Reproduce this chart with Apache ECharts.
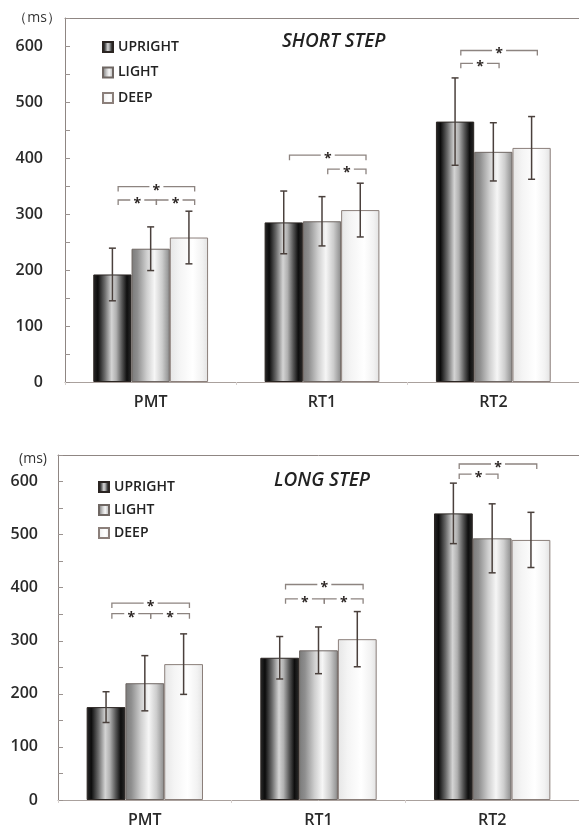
<!DOCTYPE html>
<html>
<head>
<meta charset="utf-8">
<script src="https://cdn.jsdelivr.net/npm/echarts@6/dist/echarts.min.js"></script>
<style>
  html, body { margin: 0; padding: 0; background: #fff; }
  #chart { width: 579px; height: 828px; }
</style>
</head>
<body>
<div id="chart"></div>
<script>
// Reaction-time components (ms) for three posture conditions, short and long steps
const categories = ['PMT', 'RT1', 'RT2'];
const conditions = ['UPRIGHT', 'LIGHT', 'DEEP'];
const yTicks = [0, 100, 200, 300, 400, 500, 600];

// SHORT STEP: means and SDs per condition (PMT, RT1, RT2)
const shortUpright = [192, 285, 465];
const shortLight = [238, 287, 411];
const shortDeep = [258, 307, 418];
const shortUprightSD = [47, 56, 78];
const shortLightSD = [39, 44, 52];
const shortDeepSD = [47, 48, 56];

// LONG STEP
const longUpright = [175, 268, 540];
const longLight = [220, 282, 493];
const longDeep = [256, 303, 490];
const longUprightSD = [29, 40, 57];
const longLightSD = [52, 44, 65];
const longDeepSD = [57, 52, 52];

// Significance brackets: [category, from condition, to condition, height (ms)]
const shortBrackets = [
  [0, 0, 2, 349], [0, 0, 1, 325], [0, 1, 2, 325],
  [1, 0, 2, 405], [1, 1, 2, 380],
  [2, 0, 2, 592], [2, 0, 1, 569]
];
const longBrackets = [
  [0, 0, 2, 371], [0, 0, 1, 351], [0, 1, 2, 351],
  [1, 0, 2, 406], [1, 0, 1, 379], [1, 1, 2, 379],
  [2, 0, 2, 633], [2, 0, 1, 614]
];

const FONT = '"Open Sans", "Noto Sans", sans-serif';
const CAT_GAP = 0.33;

function grad(stops) {
  return new echarts.graphic.LinearGradient(0, 0, 1, 0,
    stops.map(s => ({ offset: s[0], color: s[1] })));
}
const barStyles = [
  { color: grad([[0, '#2a2a2a'], [0.12, '#0c0c0c'], [0.3, '#6a6a6a'], [0.48, '#d4d4d4'], [0.6, '#b0b0b0'], [0.75, '#555'], [0.88, '#0e0e0e'], [1, '#2a2a2a']]), borderColor: '#2b2522', borderWidth: 1 },
  { color: grad([[0, '#7a7a7a'], [0.15, '#8e8e8e'], [0.4, '#cfcfcf'], [0.6, '#f6f6f6'], [0.8, '#cdcdcd'], [1, '#8a8a8a']]), borderColor: '#6f6763', borderWidth: 1 },
  { color: grad([[0, '#e6e6e6'], [0.25, '#f4f4f4'], [0.6, '#ffffff'], [0.85, '#f2f2f2'], [1, '#e2e2e2']]), borderColor: '#8b7f7a', borderWidth: 1 }
];

function errorData(means, sds) {
  const out = [];
  means.forEach((arr, g) => arr.forEach((m, c) => out.push([c, g, m, sds[g][c]])));
  return out;
}

function renderError(params, api) {
  const c = api.value(0), g = api.value(1), m = api.value(2), s = api.value(3);
  const band = api.size([1, 0])[0];
  const bw = band * (1 - CAT_GAP) / 3;
  const x = api.coord([c, m])[0] + (g - 1) * bw;
  const yHi = api.coord([c, m + s])[1];
  const yLo = api.coord([c, m - s])[1];
  const st = { stroke: '#4a403c', lineWidth: 1.5 };
  return {
    type: 'group',
    children: [
      { type: 'line', shape: { x1: x, y1: yHi, x2: x, y2: yLo }, style: st },
      { type: 'line', shape: { x1: x - 3.5, y1: yHi, x2: x + 3.5, y2: yHi }, style: st },
      { type: 'line', shape: { x1: x - 3.5, y1: yLo, x2: x + 3.5, y2: yLo }, style: st }
    ]
  };
}

function renderBracket(params, api) {
  const c = api.value(0), from = api.value(1), to = api.value(2), lvl = api.value(3);
  const band = api.size([1, 0])[0];
  const bw = band * (1 - CAT_GAP) / 3;
  const p = api.coord([c, lvl]);
  const off = bw * 0.15;
  const x1 = p[0] + (from - 1) * bw + off;
  const x2 = p[0] + (to - 1) * bw + off;
  const y = p[1];
  const xm = (x1 + x2) / 2;
  const st = { stroke: '#8d8480', lineWidth: 1.3, fill: null };
  return {
    type: 'group',
    children: [
      { type: 'polyline', shape: { points: [[x1, y + 5], [x1, y], [xm - 7, y]] }, style: st },
      { type: 'polyline', shape: { points: [[xm + 7, y], [x2, y], [x2, y + 5]] }, style: st },
      { type: 'text', x: xm, y: y + 4, style: { text: '*', fontSize: 14, fontWeight: 'bold', fontFamily: FONT, fill: '#2e2826', align: 'center', verticalAlign: 'middle' } }
    ]
  };
}

function yAxisFor(gridIndex, name, namePad, nameGap, labelMargin) {
  return {
    type: 'value', gridIndex, min: 0, max: 650, interval: 50,
    name, nameLocation: 'end', nameGap,
    nameTextStyle: { fontFamily: FONT, fontSize: 14, fontWeight: 500, color: '#333', align: 'right', verticalAlign: 'middle', padding: [0, namePad, 0, 0] },
    axisLine: { show: true, lineStyle: { color: '#8f8683', width: 1 } },
    axisTick: { show: true, inside: true, length: 5, lineStyle: { color: '#9a928f' } },
    axisLabel: {
      fontFamily: FONT, fontSize: 16, fontWeight: 600, color: '#2a2a2a', margin: labelMargin,
      formatter: v => (yTicks.indexOf(v) >= 0 ? String(v) : '')
    },
    splitLine: { show: false }
  };
}

function xAxisFor(gridIndex) {
  return {
    type: 'category', gridIndex, data: categories,
    axisLine: { lineStyle: { color: '#aaa19d', width: 1 } },
    axisTick: { show: true, length: 3, lineStyle: { color: '#d6d0ce' } },
    axisLabel: { fontFamily: FONT, fontSize: 16, fontWeight: 600, color: '#2a2a2a', margin: 12 }
  };
}

function topBorderAxis(gridIndex) {
  return {
    type: 'category', gridIndex, data: categories, position: 'top',
    axisLine: { show: true, lineStyle: { color: '#8f8683', width: 1 } },
    axisTick: { show: false }, axisLabel: { show: false }
  };
}

function barSeries(name, data, idx, axisIdx) {
  return {
    type: 'bar', name, data, xAxisIndex: axisIdx, yAxisIndex: axisIdx,
    barGap: 0, barCategoryGap: (CAT_GAP * 100) + '%',
    itemStyle: barStyles[idx], emphasis: { disabled: true }, z: 2
  };
}

const chart = echarts.init(document.getElementById('chart'), null, { renderer: 'canvas' });
chart.setOption({
  animation: false,
  backgroundColor: '#ffffff',
  textStyle: { fontFamily: FONT },
  title: [
    { text: 'SHORT STEP', left: 282, top: 32, padding: 0,
      textStyle: { fontFamily: FONT, fontSize: 19, fontStyle: 'italic', fontWeight: 600, color: '#222' } },
    { text: 'LONG STEP', left: 274, top: 471, padding: 0,
      textStyle: { fontFamily: FONT, fontSize: 19, fontStyle: 'italic', fontWeight: 600, color: '#222' } }
  ],
  legend: [
    { orient: 'vertical', left: 102, top: 40, padding: 0, itemWidth: 10, itemHeight: 10, itemGap: 11.5, itemTextGap: 3,
      icon: 'rect', data: conditions, selectedMode: false,
      textStyle: { fontFamily: FONT, fontSize: 14, fontWeight: 600, color: '#222' } },
    { orient: 'vertical', left: 98, top: 480, padding: 0, itemWidth: 10, itemHeight: 10, itemGap: 9, itemTextGap: 3,
      icon: 'rect', data: conditions, selectedMode: false,
      textStyle: { fontFamily: FONT, fontSize: 14, fontWeight: 600, color: '#222' } }
  ],
  grid: [
    { left: 65, top: 18, width: 519, height: 364 },
    { left: 58, top: 455, width: 525, height: 345 }
  ],
  xAxis: [xAxisFor(0), xAxisFor(1), topBorderAxis(0), topBorderAxis(1)],
  yAxis: [
    yAxisFor(0, '（ms）', 4, 0, 22),
    yAxisFor(1, '(ms)', 11, -4, 20)
  ],
  series: [
    barSeries('UPRIGHT', shortUpright, 0, 0),
    barSeries('LIGHT', shortLight, 1, 0),
    barSeries('DEEP', shortDeep, 2, 0),
    barSeries('UPRIGHT', longUpright, 0, 1),
    barSeries('LIGHT', longLight, 1, 1),
    barSeries('DEEP', longDeep, 2, 1),
    { type: 'custom', xAxisIndex: 0, yAxisIndex: 0, z: 5, clip: false, silent: true,
      data: errorData([shortUpright, shortLight, shortDeep], [shortUprightSD, shortLightSD, shortDeepSD]),
      encode: { x: 0, y: 2 }, renderItem: renderError },
    { type: 'custom', xAxisIndex: 1, yAxisIndex: 1, z: 5, clip: false, silent: true,
      data: errorData([longUpright, longLight, longDeep], [longUprightSD, longLightSD, longDeepSD]),
      encode: { x: 0, y: 2 }, renderItem: renderError },
    { type: 'custom', xAxisIndex: 0, yAxisIndex: 0, z: 5, clip: false, silent: true,
      data: shortBrackets, encode: { x: 0, y: 3 }, renderItem: renderBracket },
    { type: 'custom', xAxisIndex: 1, yAxisIndex: 1, z: 5, clip: false, silent: true,
      data: longBrackets, encode: { x: 0, y: 3 }, renderItem: renderBracket }
  ]
});
</script>
</body>
</html>
